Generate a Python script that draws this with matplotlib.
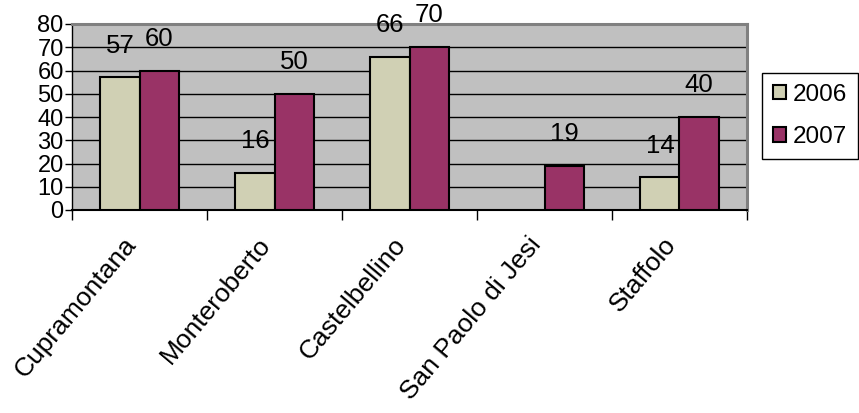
import matplotlib
matplotlib.use("Agg")
import matplotlib.pyplot as plt
from matplotlib.patches import Patch
from matplotlib.transforms import ScaledTranslation
import numpy as np

categories = ["Cupramontana", "Monteroberto", "Castelbellino", "San Paolo di Jesi", "Staffolo"]
values_2006 = [57, 16, 66, np.nan, 14]
values_2007 = [60, 50, 70, 19, 40]
series_names = ["2006", "2007"]
y_ticks = [0, 10, 20, 30, 40, 50, 60, 70, 80]

plt.rcParams["font.family"] = ["Liberation Sans", "DejaVu Sans"]

color_2006 = "#D0D0B4"
color_2007 = "#993366"

fig = plt.figure(figsize=(8.59, 4.13), dpi=100)
ax = fig.add_axes([72 / 859, 1 - 210 / 413, 675 / 859, 186 / 413])
ax.set_facecolor("#C0C0C0")

x = np.arange(len(categories))
w = 0.29
ax.bar(x - w / 2, values_2006, w, color=color_2006, edgecolor="black", linewidth=1.5, zorder=3)
ax.bar(x + w / 2, values_2007, w, color=color_2007, edgecolor="black", linewidth=1.5, zorder=3)

# value labels above each bar
for xs, vals in ((x - w / 2, values_2006), (x + w / 2, values_2007)):
    for xi, v in zip(xs, vals):
        if np.isnan(v):
            continue
        ax.annotate(f"{v:g}", (xi, v), xytext=(0, 23), textcoords="offset points",
                    ha="center", va="center", fontsize=18.5, clip_on=False, zorder=4)

ax.set_xlim(-0.5, len(categories) - 0.5)
ax.set_ylim(0, 80)
ax.set_yticks(y_ticks)
ax.set_yticklabels([str(t) for t in y_ticks], fontsize=17)
ax.yaxis.grid(True, color="black", linewidth=1.0, zorder=1)
ax.set_axisbelow(True)
ax.tick_params(axis="y", direction="out", length=5, width=1, color="black", pad=1)

# category boundaries as ticks, names centred between them
ax.set_xticks(np.arange(-0.5, len(categories), 1.0), minor=True)
ax.set_xticks(x)
ax.set_xticklabels(categories, rotation=50, ha="right", va="center",
                   rotation_mode="anchor", fontsize=19)
ax.tick_params(axis="x", which="major", length=0, pad=22)
ax.tick_params(axis="x", which="minor", direction="out", length=7, width=1, color="black")
shift = ScaledTranslation(-8 / 100, 0, fig.dpi_scale_trans)
for lbl in ax.get_xticklabels():
    lbl.set_transform(lbl.get_transform() + shift)

for side in ("top", "right"):
    ax.spines[side].set_color("#808080")
    ax.spines[side].set_linewidth(2.2)
ax.spines["left"].set_color("black")
ax.spines["bottom"].set_color("black")
ax.spines["left"].set_linewidth(1.0)
ax.spines["bottom"].set_linewidth(1.5)

handles = [Patch(facecolor=color_2006, edgecolor="black", linewidth=1.5),
           Patch(facecolor=color_2007, edgecolor="black", linewidth=1.5)]
leg = fig.legend(handles, series_names, loc="center",
                 bbox_to_anchor=(767 / 859, 1 - 163 / 413, 86 / 859, 94 / 413),
                 fontsize=17.5, handlelength=0.55, handleheight=0.55, handletextpad=0.3,
                 labelspacing=0.85, borderpad=0.45, borderaxespad=0, frameon=True,
                 fancybox=False, edgecolor="black", framealpha=1)
leg.get_frame().set_linewidth(1.0)

fig.savefig("out.png", dpi=100)
